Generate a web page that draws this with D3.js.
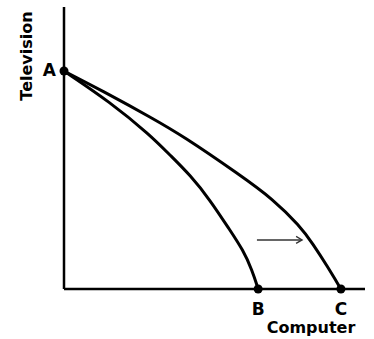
<!DOCTYPE html>
<html><head><meta charset="utf-8">
<script src="https://cdn.jsdelivr.net/npm/d3@7"></script>
<style>html,body{margin:0;padding:0;background:#fff;}svg{display:block;}</style>
</head><body>
<svg id="chart" width="374" height="339"></svg>
<script>
// Data (abstract units: computers on x, televisions on y)
const innerX = [0, 15.3, 28.6, 35.2, 41.9, 48.5, 55.1, 59.5, 62.5, 64.5];
const innerY = [77.3, 66.3, 54.6, 47.5, 40.4, 31.6, 20.9, 13.8, 6.7, 0];
const outerX = [0, 15.3, 28.6, 39.5, 58.5, 69.4, 78.4, 82.7, 87.4, 92.0];
const outerY = [77.3, 68.8, 61.0, 54.3, 40.4, 31.9, 22.3, 16.0, 8.2, 0];
const pointLabels = ["A", "B", "C"];
const pointX = [0, 64.5, 92.0];
const pointY = [77.3, 0, 0];
const arrowX = [64.1, 79.1];
const arrowY = [17.4, 17.4];
const xTitle = "Computer";
const yTitle = "Television";

const svg = d3.select("#chart");
const x = d3.scaleLinear().domain([0, 100]).range([64, 365]);
const y = d3.scaleLinear().domain([0, 100]).range([289, 7]);

// axes
svg.append("line").attr("x1", x(0)).attr("x2", x(0)).attr("y1", y(0)).attr("y2", y(100))
  .attr("stroke", "#000").attr("stroke-width", 2.5);
svg.append("line").attr("x1", x(0)).attr("x2", x(100)).attr("y1", y(0)).attr("y2", y(0))
  .attr("stroke", "#000").attr("stroke-width", 2.5);

const line = d3.line().x(d => x(d[0])).y(d => y(d[1])).curve(d3.curveBasis);
svg.append("path").attr("d", line(innerX.map((v, i) => [v, innerY[i]])))
  .attr("fill", "none").attr("stroke", "#000").attr("stroke-width", 3);
svg.append("path").attr("d", line(outerX.map((v, i) => [v, outerY[i]])))
  .attr("fill", "none").attr("stroke", "#000").attr("stroke-width", 3);

// points
svg.selectAll("circle.pt").data(pointX).join("circle").attr("class", "pt")
  .attr("cx", (d) => x(d)).attr("cy", (d, i) => y(pointY[i])).attr("r", 4.5).attr("fill", "#000");

// arrow
svg.append("line").attr("x1", x(arrowX[0])).attr("x2", x(arrowX[1]))
  .attr("y1", y(arrowY[0])).attr("y2", y(arrowY[1]))
  .attr("stroke", "#333").attr("stroke-width", 1.5);
const ax = x(arrowX[1]), ay = y(arrowY[1]);
svg.append("path").attr("d", `M${ax - 6},${ay - 3.5} L${ax},${ay} L${ax - 6},${ay + 3.5}`)
  .attr("fill", "none").attr("stroke", "#333").attr("stroke-width", 1.3);

const font = "'DejaVu Sans', Verdana, sans-serif";
// point labels
svg.append("text").attr("x", x(pointX[0]) - 8).attr("y", y(pointY[0]) + 5)
  .attr("text-anchor", "end").attr("font-family", font).attr("font-weight", "bold")
  .attr("font-size", 17).text(pointLabels[0]);
[1, 2].forEach(i => {
  svg.append("text").attr("x", x(pointX[i])).attr("y", 315)
    .attr("text-anchor", "middle").attr("font-family", font).attr("font-weight", "bold")
    .attr("font-size", 17).text(pointLabels[i]);
});
svg.append("text").attr("x", 311).attr("y", 333).attr("text-anchor", "middle")
  .attr("font-family", font).attr("font-weight", "bold").attr("font-size", 16).text(xTitle);
svg.append("text").attr("transform", "translate(32,56) rotate(-90)").attr("text-anchor", "middle")
  .attr("font-family", font).attr("font-weight", "bold").attr("font-size", 16).text(yTitle);
</script>
</body></html>
